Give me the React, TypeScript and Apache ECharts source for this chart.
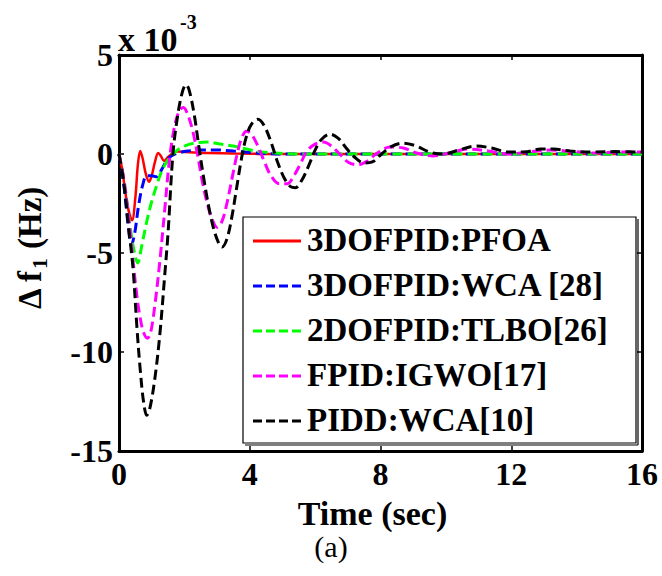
import React, { useEffect, useRef } from "react";
import * as echarts from "echarts";

const FONT = "Liberation Serif, Times New Roman, serif";

const xTicks = [0, 4, 8, 12, 16];
const yTicks = [-15, -10, -5, 0, 5];
const seriesNames = ["3DOFPID:PFOA", "3DOFPID:WCA [28]", "2DOFPID:TLBO[26]", "FPID:IGWO[17]", "PIDD:WCA[10]"];
const seriesColors = ["#ff0000", "#0000ff", "#00ff00", "#ff00ff", "#000000"];
const seriesDashed = [false, true, true, true, true];

const pfoaT = [0, 0.1, 0.2, 0.3, 0.4, 0.5, 0.58, 0.65, 0.72, 0.82, 0.92, 1.0, 1.1, 1.2, 1.28, 1.38, 1.5, 1.65, 1.8, 2.0, 2.3, 2.7, 3.5, 5, 16];
const pfoaV = [0, -0.8, -2.0, -2.9, -3.35, -2.2, -0.5, 0.15, -0.2, -1.0, -1.4, -1.1, -0.4, 0.05, -0.1, -0.35, -0.15, 0.05, 0.12, 0.1, 0.08, 0.05, 0.02, 0, 0];

const wcaT = [0, 0.15, 0.28, 0.38, 0.48, 0.6, 0.72, 0.85, 1.0, 1.15, 1.3, 1.45, 1.6, 1.8, 2.1, 2.5, 3.0, 3.5, 4.0, 4.5, 5.0, 16];
const wcaV = [0, -1.6, -3.6, -4.6, -4.0, -2.6, -1.6, -1.1, -1.1, -1.15, -0.8, -0.35, -0.1, 0.05, 0.15, 0.2, 0.2, 0.15, 0.08, 0.02, 0, 0];

const tlboT = [0, 0.15, 0.3, 0.45, 0.57, 0.7, 0.85, 1.0, 1.15, 1.3, 1.5, 1.75, 2.0, 2.3, 2.7, 3.1, 3.5, 3.9, 4.3, 4.8, 5.5, 16];
const tlboV = [0, -1.3, -3.2, -4.8, -5.5, -4.6, -3.4, -2.4, -1.6, -0.9, -0.3, 0.15, 0.4, 0.55, 0.6, 0.5, 0.4, 0.25, 0.12, 0.05, 0, 0];

const igwoT = [0, 0.15, 0.3, 0.43, 0.55, 0.65, 0.75, 0.87, 0.97, 1.1, 1.25, 1.4, 1.55, 1.7, 1.85, 1.97, 2.1, 2.25, 2.4, 2.55, 2.7, 2.85, 3.0, 3.15, 3.3, 3.45, 3.6, 3.75, 3.9, 4.05, 4.25, 4.45, 4.65, 4.9, 5.15, 5.35, 5.55, 5.75, 6.0, 6.25, 6.5, 6.75, 7.0, 7.3, 7.6, 7.9, 8.3, 8.7, 9.1, 9.6, 10.1, 10.7, 11.3, 11.9, 12.5, 13.2, 13.9, 14.6, 15.3, 16];
const igwoV = [0, -1.3, -3.3, -5.4, -7.2, -8.3, -9.0, -9.3, -9.0, -7.6, -5.4, -2.8, -0.2, 1.4, 2.2, 2.35, 2.0, 1.2, 0, -1.4, -2.5, -3.3, -3.7, -3.4, -2.5, -1.3, -0.1, 0.8, 1.15, 1.0, 0.4, -0.4, -1.1, -1.5, -1.5, -1.1, -0.5, 0.15, 0.5, 0.6, 0.4, 0.0, -0.4, -0.55, -0.35, 0.05, 0.35, 0.3, 0.05, -0.1, 0.05, 0.25, 0.15, 0.0, 0.1, 0.2, 0.12, 0.05, 0.1, 0.1];

const piddT = [0, 0.15, 0.3, 0.43, 0.55, 0.65, 0.75, 0.85, 0.95, 1.1, 1.25, 1.4, 1.5, 1.65, 1.8, 1.95, 2.05, 2.15, 2.3, 2.45, 2.6, 2.75, 2.9, 3.05, 3.15, 3.3, 3.45, 3.6, 3.75, 3.9, 4.05, 4.25, 4.45, 4.65, 4.85, 5.05, 5.25, 5.4, 5.6, 5.8, 6.0, 6.2, 6.45, 6.7, 6.95, 7.2, 7.5, 7.75, 8.0, 8.3, 8.7, 9.1, 9.5, 9.9, 10.4, 10.9, 11.4, 11.9, 12.4, 12.9, 13.3, 13.8, 14.5, 15.2, 16];
const piddV = [0, -1.5, -3.8, -5.8, -8.8, -10.9, -12.5, -13.2, -12.8, -11.3, -9.1, -6.1, -4.0, 0, 2.0, 3.2, 3.5, 3.2, 2.0, 0.3, -1.3, -2.7, -3.8, -4.5, -4.7, -4.3, -3.2, -1.7, -0.2, 0.9, 1.5, 1.75, 1.4, 0.6, -0.4, -1.2, -1.65, -1.7, -1.3, -0.6, 0.2, 0.75, 1.0, 0.8, 0.3, -0.15, -0.45, -0.4, -0.05, 0.35, 0.55, 0.4, 0.1, 0.0, 0.2, 0.4, 0.3, 0.1, 0.1, 0.25, 0.25, 0.15, 0.1, 0.12, 0.1];

const zip = (t: number[], v: number[]) => t.map((x, i) => [x, v[i]]);

export default function App() {
  const ref = useRef<HTMLDivElement>(null);
  useEffect(() => {
    if (!ref.current) return;
    const chart = echarts.init(ref.current, undefined, { renderer: "svg" });
    const tickLabel = { fontFamily: FONT, fontWeight: "bold" as const, fontSize: 32, color: "#000" };
    const axisCommon = {
      axisLine: { show: true, onZero: false, lineStyle: { color: "#000", width: 3 } },
      axisTick: { show: true, inside: true, length: 5, lineStyle: { color: "#000", width: 1.5 } },
      splitLine: { show: false },
    };
    const dash = [10, 5];
    const mk = (i: number, data: number[][]) => ({
      name: seriesNames[i],
      type: "line",
      data,
      showSymbol: false,
      symbol: "none",
      smooth: 0.35,
      lineStyle: { color: seriesColors[i], width: seriesDashed[i] ? 3 : 2.5, type: seriesDashed[i] ? dash : "solid" },
      itemStyle: { color: seriesColors[i] },
      z: 2,
    });
    const rowY = [241, 286, 331, 376, 421];
    const legendLines = seriesNames.map((_, i) => ({
      type: "line",
      z: 6,
      shape: { x1: 253, y1: rowY[i], x2: 301, y2: rowY[i] },
      style: { stroke: seriesColors[i], lineWidth: 3, lineDash: seriesDashed[i] ? [9, 4] : null },
    }));
    chart.setOption({
      animation: false,
      backgroundColor: "#fff",
      textStyle: { fontFamily: FONT, fontWeight: "bold", color: "#000" },
      grid: { left: 119, top: 55, width: 523, height: 396, containLabel: false },
      xAxis: [
        {
          type: "value", min: 0, max: 16, interval: 4, position: "bottom",
          ...axisCommon,
          axisLabel: { ...tickLabel, margin: 7, customValues: xTicks },
          name: "Time (sec)", nameLocation: "middle", nameGap: 45,
          nameTextStyle: { fontFamily: FONT, fontWeight: "bold", fontSize: 34, color: "#000", padding: [0, 16, 0, 0] },
        },
        {
          type: "value", min: 0, max: 16, interval: 4, position: "top",
          ...axisCommon, axisLabel: { show: false },
        },
      ],
      yAxis: [
        {
          type: "value", min: -15, max: 5, interval: 5, position: "left",
          ...axisCommon,
          axisLabel: { ...tickLabel, margin: 6, customValues: yTicks },
        },
        {
          type: "value", min: -15, max: 5, interval: 5, position: "right",
          ...axisCommon, axisLabel: { show: false },
        },
      ],
      legend: {
        orient: "vertical",
        left: 253,
        top: 222,
        padding: 0,
        itemWidth: 48,
        itemHeight: 14,
        itemGap: 9,
        data: seriesNames,
        icon: "rect",
        itemStyle: { opacity: 0 },
        lineStyle: { opacity: 0 },
        textStyle: { fontFamily: FONT, fontWeight: "bold", fontSize: 33, color: "#000", lineHeight: 36, padding: [0, 0, 0, 1] },
        z: 10,
      },
      graphic: [
        { type: "rect", z: 5, shape: { x: 243, y: 217, width: 393, height: 226 }, style: { fill: "#fff", stroke: "#000", lineWidth: 1.2 } },
        { type: "line", z: 5, shape: { x1: 245, y1: 445, x2: 638, y2: 445 }, style: { stroke: "#000", lineWidth: 1.2 } },
        { type: "line", z: 5, shape: { x1: 638, y1: 219, x2: 638, y2: 445 }, style: { stroke: "#000", lineWidth: 1.2 } },
        ...legendLines,
        { type: "text", left: 118, top: 22, style: { text: "x 10", fontFamily: FONT, fontWeight: "bold", fontSize: 34, fill: "#000" } },
        { type: "text", left: 180, top: 12, style: { text: "-3", fontFamily: FONT, fontWeight: "bold", fontSize: 20, fill: "#000" } },
        {
          type: "group", x: 30, y: 263, rotation: Math.PI / 2,
          children: [
            { type: "text", x: -8, y: 0, style: { text: "Δ f", fontFamily: FONT, fontWeight: "bold", fontSize: 33, fill: "#000", textAlign: "right", textVerticalAlign: "middle" } },
            { type: "text", x: -6, y: 9, style: { text: "1", fontFamily: FONT, fontWeight: "bold", fontSize: 22, fill: "#000", textAlign: "left", textVerticalAlign: "middle" } },
            { type: "text", x: 14, y: 0, style: { text: "(Hz)", fontFamily: FONT, fontWeight: "bold", fontSize: 33, fill: "#000", textAlign: "left", textVerticalAlign: "middle" } },
          ],
        },
        { type: "text", left: "center", top: 531, style: { text: "(a)", fontFamily: FONT, fontWeight: "normal", fontSize: 30, fill: "#000" } },
      ],
      series: [
        mk(0, zip(pfoaT, pfoaV)),
        mk(1, zip(wcaT, wcaV)),
        mk(2, zip(tlboT, tlboV)),
        mk(3, zip(igwoT, igwoV)),
        mk(4, zip(piddT, piddV)),
      ],
    });
    return () => chart.dispose();
  }, []);
  return <div ref={ref} style={{ position: "fixed", left: 0, top: 0, width: 662, height: 576 }} />;
}
